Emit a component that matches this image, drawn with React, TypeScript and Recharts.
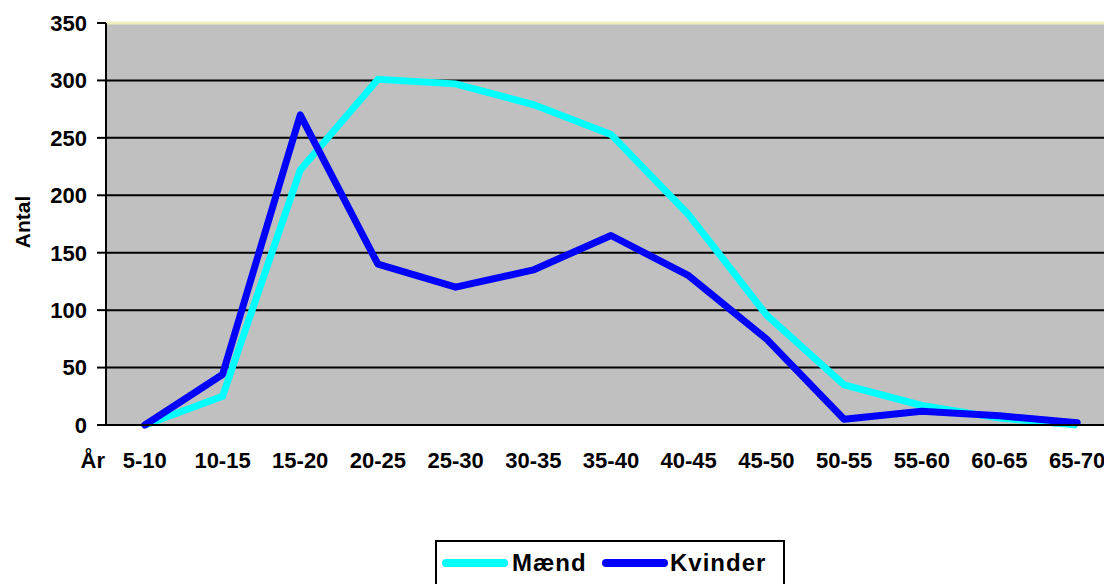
import React from 'react';
import { LineChart, Line, XAxis, YAxis, CartesianGrid, ReferenceLine, Legend } from 'recharts';

const categories = ['5-10', '10-15', '15-20', '20-25', '25-30', '30-35', '35-40', '40-45', '45-50', '50-55', '55-60', '60-65', '65-70'];
const maend = [0, 25, 222, 301, 297, 279, 253, 183, 96, 35, 17, 6, 0];
const kvinder = [0, 44, 270, 140, 120, 135, 165, 130, 75, 5, 12, 8, 2];
const yTicks = [0, 50, 100, 150, 200, 250, 300, 350];
const xBoundaries = [0, 1, 2, 3, 4, 5, 6, 7, 8, 9, 10, 11, 12, 13];

const data = categories.map((name, i) => ({ name, x: i + 0.5, maend: maend[i], kvinder: kvinder[i] }));

const FONT = '"Liberation Sans", Arial, sans-serif';

const LegendBox = () => (
  <div
    style={{
      width: 350,
      height: 46,
      border: '2px solid #000',
      boxSizing: 'border-box',
      background: '#fff',
      display: 'flex',
      alignItems: 'center',
      paddingLeft: 5,
      fontFamily: FONT,
      fontWeight: 'bold',
      fontSize: 24,
      letterSpacing: 1,
      color: '#000',
      whiteSpace: 'nowrap',
    }}
  >
    <span style={{ display: 'inline-block', flex: 'none', width: 66, height: 8, borderRadius: 4, background: '#00FFFF', marginRight: 4 }} />
    <span style={{ display: 'inline-block', flex: 'none', width: 90 }}>Mænd</span>
    <span style={{ display: 'inline-block', flex: 'none', width: 66, height: 8, borderRadius: 4, background: '#0000FF', marginRight: 2 }} />
    <span style={{ display: 'inline-block', flex: 'none' }}>Kvinder</span>
  </div>
);

export default function App() {
  return (
    <div style={{ position: 'absolute', left: 0, top: 0, width: 1104, height: 584, overflow: 'hidden', background: '#fff' }}>
      <LineChart width={1116} height={584} data={data} margin={{ top: 23, right: 0, bottom: 0, left: 0 }}>
        <CartesianGrid xAxisId={0} vertical={false} horizontal fill="#C0C0C0" stroke="#000" strokeWidth={2} fillOpacity={1} />
        <ReferenceLine xAxisId={0} y={350} stroke="#EFEFC0" strokeWidth={3} />
        <XAxis
          xAxisId={0}
          dataKey="x"
          type="number"
          domain={[0, 13]}
          ticks={xBoundaries}
          interval={0}
          tick={false}
          tickSize={9}
          height={9}
          axisLine={{ stroke: '#000', strokeWidth: 2 }}
          tickLine={{ stroke: '#000', strokeWidth: 2 }}
        />
        <XAxis
          xAxisId={1}
          dataKey="name"
          type="category"
          scale="band"
          interval={0}
          height={150}
          axisLine={false}
          tickLine={false}
          tickSize={0}
          tickMargin={18}
          tick={{ fill: '#000', fontSize: 22, fontWeight: 'bold', fontFamily: FONT }}
          label={{
            content: (props: any) => {
              const vb = props.viewBox || {};
              return (
                <text x={vb.x - 1} y={vb.y + 18} dy="0.71em" textAnchor="end" fill="#000" fontSize={22} fontWeight="bold" fontFamily={FONT}>
                  År
                </text>
              );
            },
          }}
        />
        <YAxis
          type="number"
          domain={[0, 350]}
          ticks={yTicks}
          interval={0}
          width={106}
          tickSize={9}
          tickMargin={10}
          axisLine={{ stroke: '#000', strokeWidth: 2 }}
          tickLine={{ stroke: '#000', strokeWidth: 2 }}
          tick={{ fill: '#000', fontSize: 22, fontWeight: 'bold', fontFamily: FONT }}
          label={{
            content: (props: any) => {
              const vb = props.viewBox || {};
              const cy = vb.y + vb.height / 2 - 2;
              return (
                <text x={22} y={cy} transform={`rotate(-90 22 ${cy})`} textAnchor="middle" dominantBaseline="central" fill="#000" fontSize={21} fontWeight="bold" fontFamily={FONT}>
                  Antal
                </text>
              );
            },
          }}
        />
        <Line xAxisId={0} type="linear" dataKey="maend" name="Mænd" stroke="#00FFFF" strokeWidth={7} dot={false} activeDot={false} isAnimationActive={false} strokeLinejoin="miter" />
        <Line xAxisId={0} type="linear" dataKey="kvinder" name="Kvinder" stroke="#0000FF" strokeWidth={7} dot={false} activeDot={false} isAnimationActive={false} strokeLinecap="round" strokeLinejoin="round" />
        <Legend
          layout="horizontal"
          verticalAlign="middle"
          align="center"
          content={() => <LegendBox />}
          wrapperStyle={{ position: 'absolute', left: 435, top: 540, right: 'auto', bottom: 'auto', width: 350, height: 46 }}
        />
      </LineChart>
    </div>
  );
}
